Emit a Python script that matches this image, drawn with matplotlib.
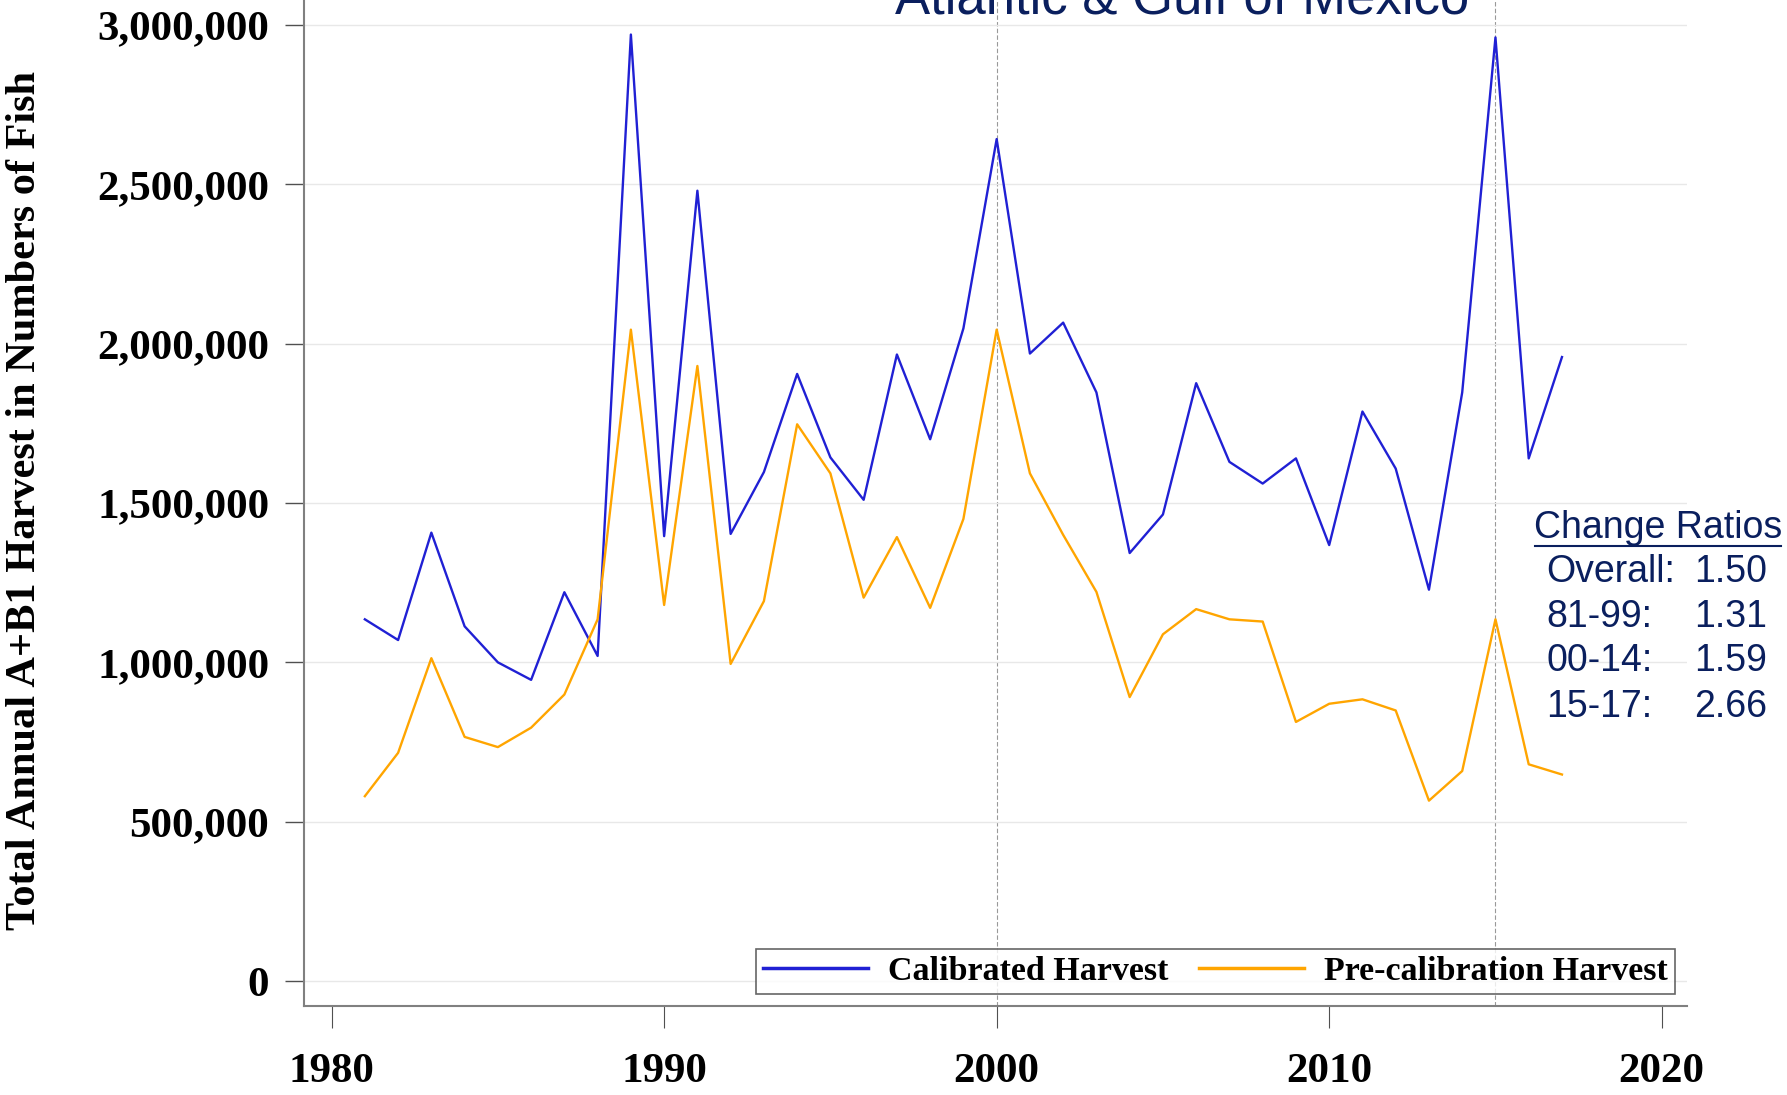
import matplotlib
matplotlib.use('Agg')
import matplotlib.pyplot as plt
import matplotlib.ticker as mticker
from matplotlib.lines import Line2D

# datos
anios = list(range(1981, 2018))
calibrada = [1135000, 1070000, 1407000, 1113000, 1000000, 945000, 1220000, 1020000,
             2970000, 1396000, 2480000, 1403000, 1597000, 1905000, 1643000, 1510000,
             1966000, 1700000, 2048000, 2642000, 1969000, 2066000, 1847000, 1343000,
             1464000, 1876000, 1629000, 1561000, 1640000, 1368000, 1787000, 1608000,
             1228000, 1847000, 2961000, 1640000, 1958000]
pre_calibrada = [580000, 716000, 1013000, 766000, 734000, 795000, 899000, 1135000,
                 2044000, 1180000, 1930000, 995000, 1192000, 1747000, 1593000, 1203000,
                 1393000, 1171000, 1450000, 2044000, 1593000, 1400000, 1221000, 891000,
                 1088000, 1167000, 1135000, 1128000, 813000, 870000, 884000, 849000,
                 566000, 659000, 1135000, 680000, 648000]
cortes = [2000, 2015]
ratio_etiquetas = ['Overall:', '81-99:', '00-14:', '15-17:']
ratio_valores = ['1.50', '1.31', '1.59', '2.66']

azul = '#2020d4'
naranja = '#ffa500'
marino = '#0a1f5e'
serif = 'Liberation Serif'
sans = 'Liberation Sans'

W, H = 1787, 1095
fig = plt.figure(figsize=(W / 100, H / 100), dpi=100)
ax = fig.add_axes([304 / W, 1 - 1006 / H, (1687 - 304) / W, 1006 / H])

ax.plot(anios, calibrada, color=azul, lw=1.7, label='Calibrated Harvest')
ax.plot(anios, pre_calibrada, color=naranja, lw=1.7, label='Pre-calibration Harvest')
for c in cortes:
    ax.axvline(c, color='#999999', lw=0.8, ls=(0, (4, 2)), zorder=0)

ax.set_xlim(1979.17, 2020.76)
ax.set_ylim(-78400, 3078400)
ax.set_xticks([1980, 1990, 2000, 2010, 2020])
ax.set_yticks(range(0, 3000001, 500000))
ax.yaxis.set_major_formatter(mticker.FuncFormatter(lambda v, p: '{:,.0f}'.format(v)))
ax.grid(axis='y', color='#e8e8e8', lw=1)
ax.set_axisbelow(True)

for s in ['top', 'right']:
    ax.spines[s].set_visible(False)
for s in ['left', 'bottom']:
    ax.spines[s].set_color('#808080')
    ax.spines[s].set_linewidth(1.5)

ax.tick_params(axis='y', length=14, width=1, color='#505050', pad=11)
ax.tick_params(axis='x', length=16, width=0.8, color='#505050', pad=18)
for lab in ax.get_xticklabels() + ax.get_yticklabels():
    lab.set_fontfamily(serif)
    lab.set_fontweight('bold')
    lab.set_fontsize(31)

fig.text(25 / W, 1 - 501 / H, 'Total Annual A+B1 Harvest in Numbers of Fish',
         rotation=90, ha='center', va='center', family=serif, weight='bold', fontsize=30.5)

# titulo cortado arriba
fig.text(1182 / W, 1 - 14 / H, 'Atlantic & Gulf of Mexico', ha='center', va='baseline',
         family=sans, fontsize=38, color=marino)

leg = ax.legend(loc='lower right', bbox_to_anchor=(0.991, 0.012), borderaxespad=0, ncol=2,
                prop={'family': serif, 'weight': 'bold', 'size': 24.5}, frameon=True,
                fancybox=False, edgecolor='#404040', handlelength=3.1, handletextpad=0.58,
                columnspacing=0.9, borderpad=0.2)
leg.get_frame().set_linewidth(1.2)
for h in leg.get_lines():
    h.set_linewidth(2.5)

# cuadro de razones
fig.text(1658 / W, 1 - 528 / H, 'Change Ratios', ha='center', va='center',
         family=sans, fontsize=27, color=marino)
fig.add_artist(Line2D([1535 / W, 1781 / W], [1 - 546 / H, 1 - 546 / H], color=marino, lw=1.5))
filas_y = [572, 617, 661, 707]
for yy, et, va in zip(filas_y, ratio_etiquetas, ratio_valores):
    fig.text(1546 / W, 1 - yy / H, et, ha='left', va='center', family=sans, fontsize=27, color=marino)
    fig.text(1767 / W, 1 - yy / H, va, ha='right', va='center', family=sans, fontsize=27, color=marino)

fig.savefig('out.png', dpi=100)
